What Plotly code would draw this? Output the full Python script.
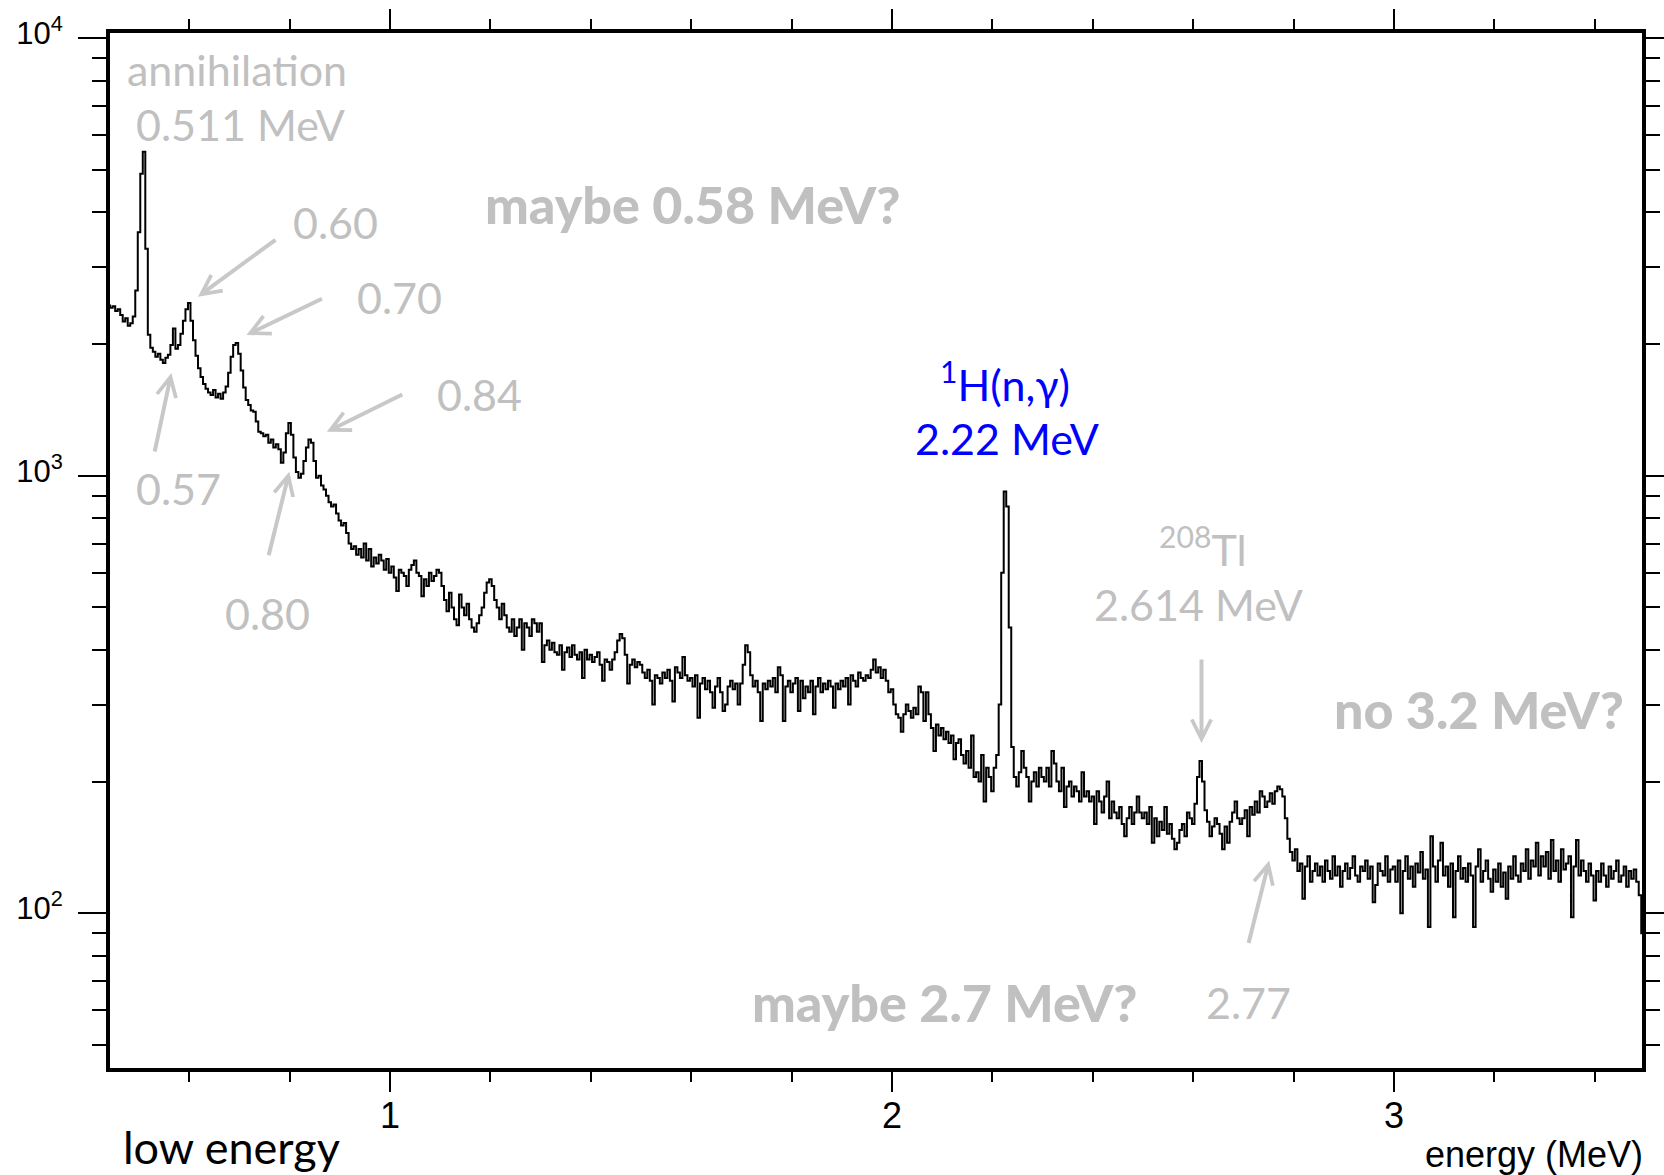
import numpy as np
import plotly.graph_objects as go

# ---------------- data (counts per 0.005 MeV bin) ----------------
BIN_START = 0.435      # MeV, centre of first bin
BIN_WIDTH = 0.005      # MeV

counts_0p43_1p00 = [
    2480, 2450, 2420, 2440, 2380, 2400, 2330, 2250, 2290, 2200, 2230, 2310,
    2650, 3600, 4900, 5500, 3300, 2100, 1960,
    1920, 1870, 1900, 1840, 1810, 1860, 1890, 1990, 2170, 1950,
    1990, 2110, 2260, 2400, 2480, 2260, 2040, 1880, 1760, 1680,
    1620, 1580, 1550, 1530, 1570, 1510, 1540, 1500, 1550, 1600,
    1720, 1870, 1990, 2010, 1900, 1740, 1590, 1490, 1450, 1410,
    1400, 1330, 1260, 1250, 1230, 1240, 1190, 1210, 1160, 1180,
    1150, 1070, 1130, 1250, 1320, 1240, 1100, 1020, 990, 1010,
    1080, 1160, 1210, 1190, 1080, 990, 1000, 950, 930, 900,
    870, 850, 860, 820, 790, 770, 780, 740, 700, 680,
    690, 660, 680, 650, 700, 640, 680, 620, 650, 630,
    660, 640, 610, 645,
]
counts_1p00_1p50 = [
    600, 620, 585, 545, 610, 600, 590, 560, 610, 625,
    640, 600, 590, 530, 580, 560, 600, 575, 590, 610,
    600, 560, 520, 490, 540, 500, 470, 455, 535, 500,
    480, 510, 470, 450, 440, 460, 480, 500, 540, 570,
    580, 560, 520, 500, 470, 510, 480, 450, 440, 470,
    430, 450, 470, 400, 460, 450, 430, 470, 460, 440,
    460, 375, 410, 420, 400, 415, 395, 390, 410, 360,
    395, 405, 385, 410, 390, 380, 395, 345, 400, 380,
    390, 375, 385, 395, 370, 340, 380, 375, 360, 380,
    395, 420, 435, 425, 390, 335, 370, 380, 365, 375,
]
counts_1p50_2p00 = [
    370, 355, 345, 360, 340, 300, 350, 345, 335, 355,
    345, 360, 340, 305, 365, 355, 345, 385, 350, 340,
    345, 330, 350, 280, 335, 345, 325, 340, 320, 295,
    330, 345, 320, 290, 300, 330, 340, 325, 335, 300,
    335, 370, 410, 395, 350, 330, 340, 320, 275, 335,
    325, 340, 330, 345, 320, 365, 350, 275, 330, 340,
    320, 335, 345, 290, 340, 310, 330, 320, 340, 285,
    330, 345, 320, 335, 325, 340, 330, 295, 335, 325,
    340, 330, 345, 300, 350, 340, 330, 355, 345, 340,
    350, 345, 360, 380, 355, 365, 345, 360, 340, 320,
]
counts_2p00_2p50 = [
    325, 300, 285, 280, 260, 285, 300, 290, 280, 295,
    285, 330, 320, 275, 320, 285, 265, 235, 270, 255,
    265, 250, 260, 245, 255, 225, 245, 250, 230, 220,
    235, 215, 255, 205, 210, 200, 230, 180, 215, 205,
    190, 215, 230, 300, 600, 920, 850, 450, 240, 205,
    195, 210, 235, 215, 205, 180, 200, 210, 195, 215,
    205, 200, 215, 195, 235, 220, 200, 190, 215, 175,
    195, 200, 185, 195, 190, 180, 210, 185, 190, 180,
    185, 160, 190, 180, 170, 185, 200, 165, 180, 170,
    165, 175, 160, 150, 165, 175, 160, 170, 185, 170,
]
counts_2p50_3p00 = [
    165, 170, 160, 175, 145, 165, 150, 162, 155, 175,
    152, 160, 148, 140, 145, 155, 160, 150, 170, 165,
    160, 178, 205, 223, 200, 172, 162, 150, 158, 165,
    160, 152, 140, 158, 145, 162, 170, 180, 165, 160,
    165, 172, 150, 175, 168, 180, 170, 190, 185, 175,
    180, 188, 178, 190, 195, 192, 185, 165, 148, 138,
    132, 140, 125, 130, 108, 128, 135, 118, 125, 130,
    122, 128, 118, 132, 125, 120, 135, 122, 128, 115,
    125, 130, 120, 127, 135, 122, 118, 128, 125, 132,
    120, 128, 106, 116, 130, 125, 122, 135, 118, 126,
]
counts_3p00_3p50 = [
    128, 118, 132, 100, 125, 135, 120, 128, 115, 130,
    124, 138, 120, 126, 93, 150, 128, 118, 132, 145,
    122, 128, 115, 130, 98, 125, 135, 120, 127, 118,
    130, 122, 93, 128, 140, 118, 125, 132, 120, 112,
    126, 118, 130, 115, 124, 108, 128, 120, 135, 122,
    118, 130, 125, 140, 120, 132, 128, 145, 122, 135,
    128, 138, 120, 147, 125, 132, 118, 140, 126, 130,
    135, 98, 128, 147, 122, 132, 125, 118, 130, 122,
    107, 125, 118, 130, 122, 115, 128, 120, 125, 132,
    118, 122, 128, 115, 125, 120, 126, 118, 110, 90,
]

x_major_ticks = [1, 2, 3]
x_major_text = ["1", "2", "3"]
x_minor_ticks = [0.6, 0.8, 1.2, 1.4, 1.6, 1.8, 2.2, 2.4, 2.6, 2.8, 3.2, 3.4]
y_major_ticks = [100, 1000, 10000]
y_major_text = ["10<sup>2</sup>", "10<sup>3</sup>", "10<sup>4</sup>"]
y_minor_ticks = [m * 10 ** d for d in (1, 2, 3) for m in range(2, 10)]

# arrow annotations: (tip energy MeV, tip counts, tail dx px, tail dy px)
arrows = [
    (0.6175, 2565, 79, -58),
    (0.714, 2097, 77, -37),
    (0.874, 1260, 77, -38),
    (0.5645, 1717, -17, 80),
    (0.7994, 1021, -21, 85),
    (2.6165, 245, 0, -85),
    (2.7514, 132, -21, 84),
]

counts = np.array(counts_0p43_1p00 + counts_1p00_1p50 + counts_1p50_2p00 +
                  counts_2p00_2p50 + counts_2p50_3p00 + counts_3p00_3p50, dtype=float)
energy = BIN_START + BIN_WIDTH * np.arange(len(counts))

GRAY = "#c0c0c0"
ARROW_GRAY = "#c8c8c8"
BLUE = "#0000ff"
LABEL_FONT = "Lato, 'Gill Sans', sans-serif"
AXIS_FONT = "'Liberation Sans', Arial, Helvetica, sans-serif"

fig = go.Figure()
fig.add_trace(go.Scatter(
    x=energy, y=counts, mode="lines",
    line=dict(color="black", width=2, shape="hvh"),
    showlegend=False, hoverinfo="skip",
))

fig.update_layout(
    width=1664, height=1175, autosize=False,
    margin=dict(l=110, r=22, t=33, b=107, pad=0, autoexpand=False),
    plot_bgcolor="white", paper_bgcolor="white",
    showlegend=False,
)

fig.update_xaxes(
    range=[0.4422, 3.4940], automargin=False,
    showline=True, linewidth=4, linecolor="black", mirror="ticks",
    ticks="outside", ticklen=20, tickwidth=2, tickcolor="black",
    tickmode="array", tickvals=x_major_ticks, ticktext=x_major_text,
    tickfont=dict(family=AXIS_FONT, size=36, color="black"),
    ticklabelstandoff=-7,
    showgrid=False, zeroline=False,
    minor=dict(tickmode="array", tickvals=x_minor_ticks, ticks="outside",
               ticklen=10, tickwidth=2, tickcolor="black", showgrid=False),
)
fig.update_yaxes(
    type="log", range=[1.6465, 4.0117], automargin=False,
    showline=True, linewidth=4, linecolor="black", mirror="ticks",
    ticks="outside", ticklen=28, tickwidth=2, tickcolor="black",
    tickmode="array", tickvals=y_major_ticks, ticktext=y_major_text,
    tickfont=dict(family=AXIS_FONT, size=31, color="black"),
    ticklabelstandoff=9, ticklabelshift=-5,
    showgrid=False, zeroline=False,
    minor=dict(tickmode="array", tickvals=y_minor_ticks, ticks="outside",
               ticklen=14, tickwidth=2, tickcolor="black", showgrid=False),
)

annotations = []

def label(text, x, y, color=GRAY, size=43, weight=None, family=LABEL_FONT, xanchor="center"):
    font = dict(family=family, size=size, color=color)
    if weight is not None:
        font["weight"] = weight
    annotations.append(dict(text=text, x=x, y=y, xref="paper", yref="paper",
                            xanchor=xanchor, yanchor="middle", showarrow=False, font=font))

label("annihilation", 0.0829, 0.9647)
label("0.511 MeV", 0.0852, 0.9114)
label("0.60", 0.1475, 0.8168)
label("0.70", 0.1890, 0.7443)
label("0.84", 0.2409, 0.6506)
label("0.57", 0.0444, 0.5598)
label("0.80", 0.1025, 0.4390)
label("maybe 0.58 MeV?", 0.3805, 0.8352, size=52, weight=900)
label("<sup>1</sup>H(n,γ)", 0.5845, 0.6631, color=BLUE, size=43)
label("2.22 MeV", 0.5855, 0.6081, color=BLUE, size=43)
label("<sup>208</sup>Tl", 0.7135, 0.5038)
label("2.614 MeV", 0.7108, 0.4477)
label("no 3.2 MeV?", 0.8939, 0.3472, size=52, weight=900)
label("maybe 2.7 MeV?", 0.5447, 0.0642, size=52, weight=900)
label("2.77", 0.7431, 0.0632)
label("low energy", 0.0796, -0.0762, color="black", size=45)
label("energy (MeV)", 1.002, -0.0840, color="black", size=36, family=AXIS_FONT, xanchor="right")

for (ex, cy, dx, dy) in arrows:
    annotations.append(dict(
        x=ex, y=float(np.log10(cy)), xref="x", yref="y",
        ax=dx, ay=dy, axref="pixel", ayref="pixel",
        text="", showarrow=True, arrowhead=5, arrowsize=0.95,
        arrowwidth=4, arrowcolor=ARROW_GRAY, standoff=0,
    ))

fig.update_layout(annotations=annotations)

fig.write_html(
    "out.html",
    config={"responsive": False, "displayModeBar": False},
    post_script="document.body.style.margin='0';document.body.style.overflow='hidden';",
)
